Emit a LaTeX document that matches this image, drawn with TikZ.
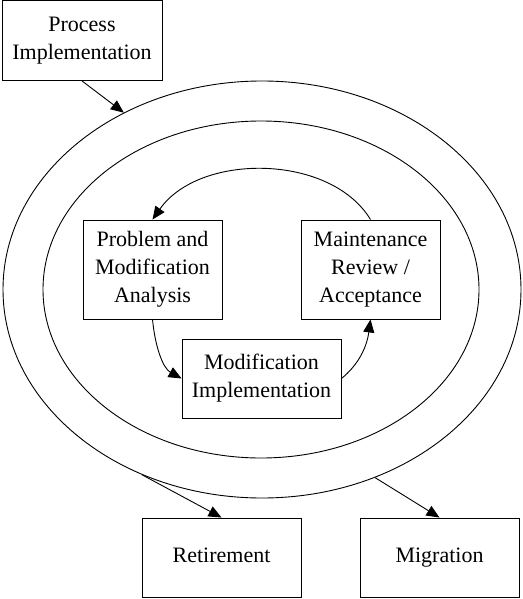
\documentclass[tikz,border=0pt]{standalone}
\usepackage{fontspec}
\setmainfont{Liberation Serif}
\usetikzlibrary{arrows.meta,shapes.geometric}

\begin{document}
\begin{tikzpicture}[x=1pt,y=-1pt,
  stageBox/.style={draw, line width=0.9pt, align=center, inner sep=0pt,
    font=\fontsize{22}{28}\selectfont},
  ring/.style={draw, ellipse, line width=0.9pt, inner sep=0pt},
  flowArrow/.style={line width=0.9pt, -{Triangle[length=13pt,width=11pt]}}]

  \useasboundingbox (0,0) rectangle (522,599);

  \node[ring, minimum width=518pt, minimum height=417pt] (outerRing) at (262,289.5) {};
  \node[ring, minimum width=436pt, minimum height=337pt] (innerRing) at (261,289.5) {};

  \node[stageBox, minimum width=160pt, minimum height=80pt] (procImpl) at (82,40.5) {Process\\Implementation};
  \node[stageBox, minimum width=139pt, minimum height=99pt] (probAnalysis) at (152.5,269.5) {Problem and\\Modification\\Analysis};
  \node[stageBox, minimum width=139pt, minimum height=99pt] (maintReview) at (370.5,269.5) {Maintenance\\Review /\\Acceptance};
  \node[stageBox, minimum width=159pt, minimum height=79pt] (modImpl) at (261.5,378.5) {Modification\\Implementation};
  \node[stageBox, minimum width=159pt, minimum height=79pt, text height=15pt, text depth=5pt] (retire) at (221.5,557.5) {Retirement};
  \node[stageBox, minimum width=159pt, minimum height=79pt, text height=15pt, text depth=5pt] (migrate) at (439.5,557.5) {Migration};

  \draw[flowArrow] (procImpl.south) -- (outerRing.128.8);
  \draw[flowArrow] (outerRing.237.5) -- (retire.north);
  \draw[flowArrow] (outerRing.301.5) -- (migrate.north);

  \draw[flowArrow] (maintReview.north) .. controls +(-40,-66) and +(47,-67) .. (probAnalysis.north);
  \draw[flowArrow] (probAnalysis.south) .. controls +(3,30) and +(-18,-10) .. (modImpl.west);
  \draw[flowArrow] (modImpl.east) .. controls +(15,-12) and +(-4,30) .. (maintReview.south);

\end{tikzpicture}
\end{document}
